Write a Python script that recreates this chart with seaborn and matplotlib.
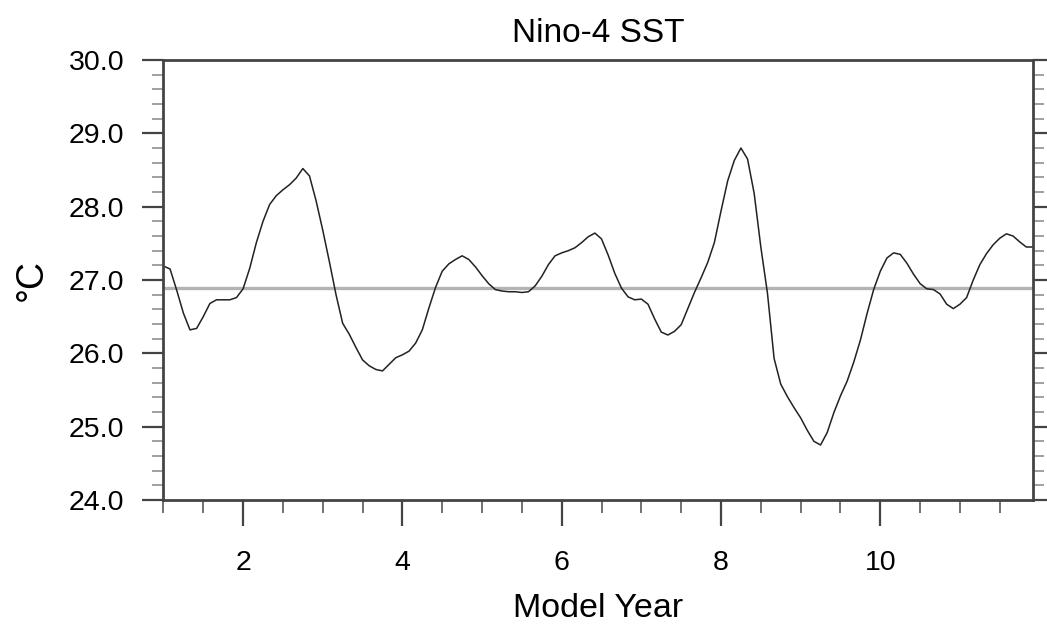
import numpy as np
import pandas as pd
import matplotlib
matplotlib.use("Agg")
import matplotlib.pyplot as plt
from matplotlib.ticker import FixedLocator, MultipleLocator, FormatStrFormatter
import seaborn as sns

# Monthly Nino-4 SST (deg C), model years 1-11, one value per month
sst = [
    27.19, 27.15, 26.86, 26.55, 26.32, 26.34, 26.50, 26.68, 26.73, 26.73, 26.73, 26.76,
    26.88, 27.16, 27.51, 27.80, 28.03, 28.15, 28.23, 28.30, 28.39, 28.52, 28.42, 28.08,
    27.68, 27.25, 26.80, 26.41, 26.26, 26.08, 25.91, 25.83, 25.78, 25.76, 25.85, 25.94,
    25.98, 26.03, 26.14, 26.32, 26.62, 26.90, 27.12, 27.22, 27.28, 27.33, 27.28, 27.18,
    27.06, 26.95, 26.87, 26.85, 26.84, 26.84, 26.83, 26.84, 26.92, 27.05, 27.21, 27.33,
    27.37, 27.40, 27.44, 27.51, 27.59, 27.64, 27.56, 27.34, 27.09, 26.89, 26.77, 26.73,
    26.74, 26.67, 26.47, 26.29, 26.25, 26.30, 26.39, 26.61, 26.83, 27.03, 27.24, 27.51,
    27.94, 28.35, 28.63, 28.80, 28.65, 28.18, 27.45, 26.82, 25.93, 25.58, 25.41, 25.26,
    25.12, 24.95, 24.80, 24.75, 24.92, 25.19, 25.42, 25.62, 25.88, 26.18, 26.54, 26.87,
    27.12, 27.30, 27.37, 27.35, 27.23, 27.08, 26.95, 26.88, 26.87, 26.81, 26.67, 26.61,
    26.67, 26.76, 27.00, 27.21, 27.36, 27.48, 27.57, 27.63, 27.60, 27.52, 27.45, 27.45,
]
first_year = 1
clim_mean = 26.89

x_major = [2, 4, 6, 8, 10]
x_tick_labels = ["2", "4", "6", "8", "10"]
y_major = [24.0, 25.0, 26.0, 27.0, 28.0, 29.0, 30.0]

years = first_year + np.arange(len(sst)) / 12.0
df = pd.DataFrame({"year": years, "sst": sst})

sns.set_style("white")
plt.rcParams["font.family"] = ["Liberation Sans", "DejaVu Sans"]
plt.rcParams["text.color"] = "black"
plt.rcParams["axes.labelcolor"] = "black"
plt.rcParams["xtick.labelcolor"] = "black"
plt.rcParams["ytick.labelcolor"] = "black"

fig = plt.figure(figsize=(10.47, 6.42), dpi=100)
ax = fig.add_axes([0.1561, 0.2212, 0.8305, 0.6853])

ax.axhline(clim_mean, color="#b3b3b3", lw=2.4, zorder=1)
sns.lineplot(data=df, x="year", y="sst", ax=ax, color="#222222", lw=1.1, zorder=2)

ax.set_xlim(years[0], years[-1])
ax.set_ylim(24.0, 30.0)

ax.xaxis.set_major_locator(FixedLocator(x_major))
ax.set_xticklabels(x_tick_labels)
ax.xaxis.set_minor_locator(MultipleLocator(0.5))
ax.yaxis.set_major_locator(FixedLocator(y_major))
ax.yaxis.set_major_formatter(FormatStrFormatter("%.1f"))
ax.yaxis.set_minor_locator(MultipleLocator(0.2))

edge = "#444444"
for s in ax.spines.values():
    s.set_visible(True)
    s.set_color(edge)
    s.set_linewidth(2.0)

ax.tick_params(axis="x", which="major", direction="out", length=19, width=1.6,
               color=edge, labelsize=20.5, pad=17, bottom=True, top=False)
ax.tick_params(axis="x", which="minor", direction="out", length=9.5, width=1.3,
               color="#666666", bottom=True, top=False)
ax.tick_params(axis="y", which="major", direction="out", length=15, width=1.6,
               color=edge, labelsize=20.5, pad=13, left=True, right=True)
ax.tick_params(axis="y", which="minor", direction="out", length=8, width=1.3,
               color="#999999", left=True, right=True)

ax.set_xlabel("Model Year", fontsize=24.5, labelpad=12)
ax.set_ylabel("°C", fontsize=27, labelpad=14)
ax.set_title("Nino-4 SST", fontsize=24, pad=13)

fig.savefig("out.png", dpi=100)
